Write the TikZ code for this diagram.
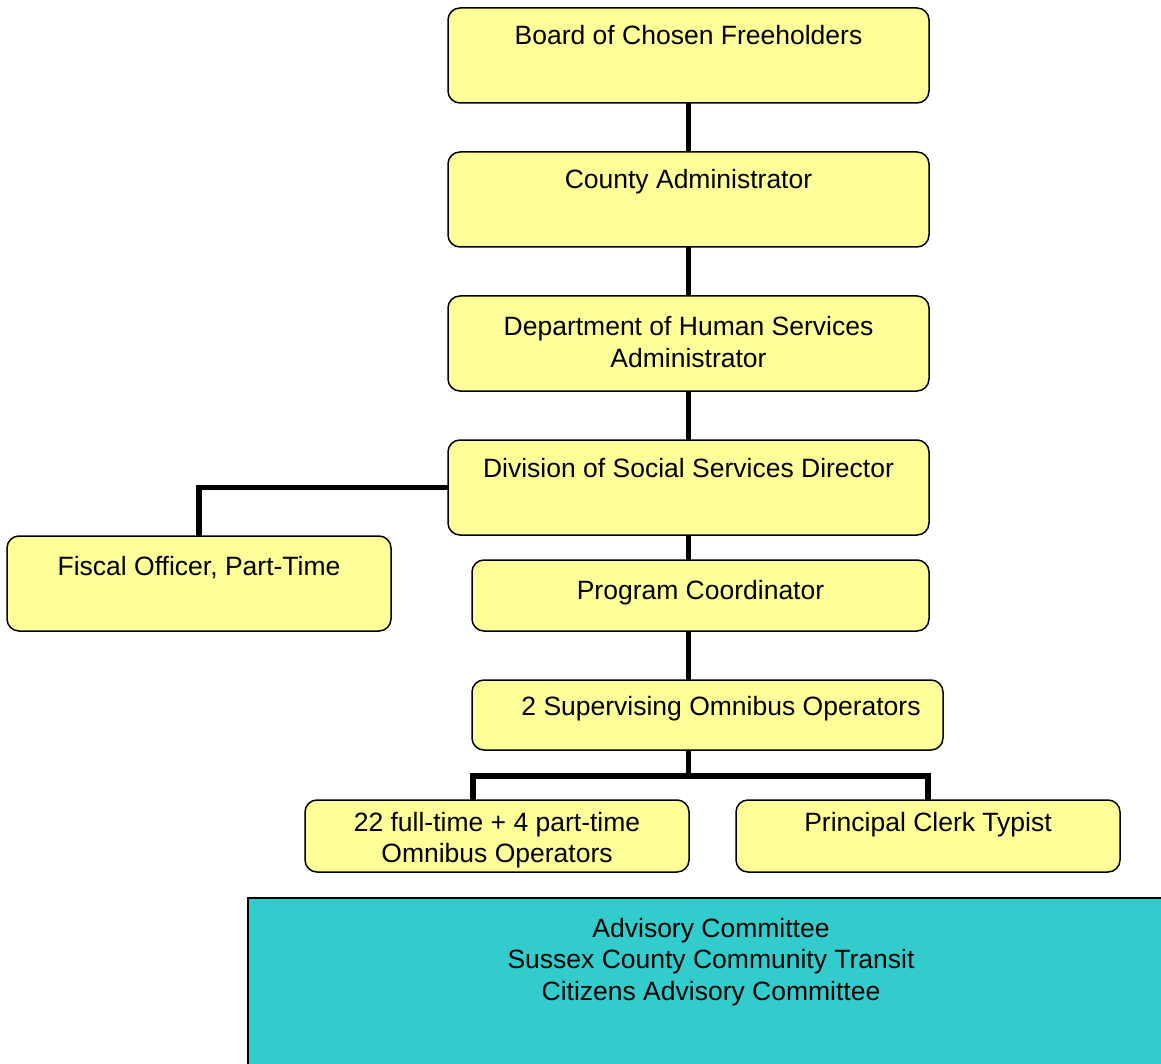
\documentclass[tikz,border=0pt]{standalone}
\usepackage{fontspec}
\setmainfont{Liberation Sans}
\usetikzlibrary{backgrounds}
\definecolor{boxyellow}{HTML}{FFFF99}
\definecolor{boxteal}{HTML}{33CCCC}
\tikzset{
  unit/.style={draw, fill=boxyellow, rounded corners=12pt, line width=1.5pt,
    inner sep=0pt, outer sep=0pt, anchor=north, align=center, text height=37pt,
    font=\fontsize{26.5pt}{31.8pt}\selectfont},
  link/.style={line width=5.5pt}
}
\begin{document}
\begin{tikzpicture}[x=1pt,y=-1pt]
  \useasboundingbox (0,0) rectangle (1161,1064);
  \clip (0,0) rectangle (1161,1064);
  \node[unit, minimum width=481pt, text depth=58pt] (board) at (688.5,8) {Board of Chosen Freeholders};
  \node[unit, minimum width=481pt, text depth=58pt] (county) at (688.5,152) {County Administrator};
  \node[unit, minimum width=481pt, text height=71.5pt, text depth=23.5pt] (dept) at (688.5,296) {Department of Human Services\\Administrator};
  \node[unit, minimum width=481pt, text depth=58pt] (division) at (688.5,440) {Division of Social Services Director};
  \node[unit, minimum width=384pt, text height=39pt, text depth=56pt] (fiscal) at (199,536) {Fiscal Officer, Part-Time};
  \node[unit, minimum width=457pt, text height=39pt, text depth=32pt] (coord) at (700.5,560) {Program Coordinator};
  \node[unit, minimum width=471pt, text height=35pt, text depth=35pt] (sup) at (707.5,680) {\hspace*{27pt}2 Supervising Omnibus Operators};
  \node[unit, minimum width=384pt, text height=62.8pt, text depth=9.2pt] (ops) at (497,800) {22 full-time + 4 part-time\\Omnibus Operators};
  \node[unit, minimum width=384pt, text height=31pt, text depth=41pt] (clerk) at (928,800) {Principal Clerk Typist};
  \node[unit, fill=boxteal, rounded corners=0pt, minimum width=926pt, text height=102.6pt, text depth=90pt,
    anchor=north west, line width=1.2pt] (advisory) at (248,898) {Advisory Committee\\Sussex County Community Transit\\Citizens Advisory Committee};
  % connectors
  \coordinate (fork) at (688.5,776);
  \begin{pgfonlayer}{background}
    \draw[link] (board.south) -- (county.north);
    \draw[link] (county.south) -- (dept.north);
    \draw[link] (dept.south) -- (division.north);
    \draw[link] (division.west) -| (fiscal.north);
    \draw[link] (division.south) -- (division.south |- coord.north);
    \draw[link] (division.south |- coord.south) -- (division.south |- sup.north);
    \draw[link] (division.south |- sup.south) -- (fork);
    \draw[link] ([xshift=-24pt]ops.north) |- (fork) -| (clerk.north);
  \end{pgfonlayer}
\end{tikzpicture}
\end{document}
